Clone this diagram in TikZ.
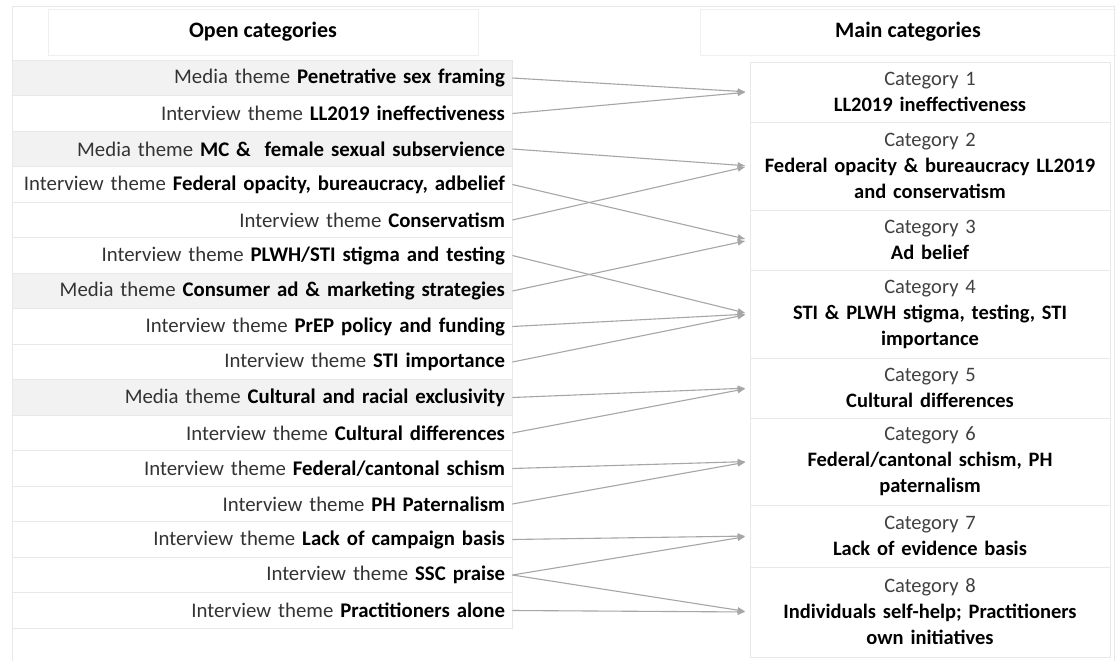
\documentclass[tikz,border=0pt]{standalone}
\usepackage{fontspec}
\setmainfont{Carlito}
\usetikzlibrary{arrows.meta}
\definecolor{rowgrey}{HTML}{F2F2F2}
\definecolor{edgegrey}{HTML}{E8E8E8}
\definecolor{arrowgrey}{HTML}{A6A6A6}
\definecolor{txtgrey}{HTML}{333333}
\definecolor{catgrey}{HTML}{404040}
\tikzset{
  rowbox/.style={rectangle, draw=edgegrey, line width=0.8pt, minimum width=500, minimum height=35.5,
    text width=486, align=right, inner sep=0pt, font=\fontsize{20.8}{24}\selectfont, text=txtgrey},
  mediarow/.style={rowbox, fill=rowgrey},
  interrow/.style={rowbox, fill=white},
  catbox/.style={rectangle, draw=edgegrey, line width=0.8pt, minimum width=360, text width=352,
    align=center, inner sep=0pt, font=\fontsize{20.5}{26}\selectfont, text=black},
  headbox/.style={rectangle, draw=edgegrey!70, line width=0.6pt, inner sep=0pt,
    font=\fontsize{22}{26}\selectfont\bfseries},
  conn/.style={draw=arrowgrey, line width=1.1pt, -{Latex[length=8pt,width=6.5pt]}, shorten >=4pt},
}
\newcommand{\cattitle}[1]{\textcolor{catgrey}{Category #1}}
\begin{document}
\begin{tikzpicture}[x=1pt,y=-1pt]
\useasboundingbox (0,0) rectangle (1116,661);
\fill[white] (0,0) rectangle (1116,661);
\draw[edgegrey, line width=0.8pt] (12,6) rectangle (1114,668);
% headers
\node[headbox, minimum width=430, minimum height=46] (hopen) at (263,32) {Open categories};
\node[headbox, minimum width=416, minimum height=46] (hmain) at (908,32) {Main categories};
% left rows
\node[mediarow] (r1) at (262,78) {Media theme \textbf{\color{black}Penetrative sex framing}};
\node[interrow] (r2) at (262,113.5) {Interview theme \textbf{\color{black}LL2019 ineffectiveness}};
\node[mediarow] (r3) at (262,149) {Media theme \textbf{\color{black}MC \&\ \ female sexual subservience}};
\node[interrow] (r4) at (262,184.5) {Interview theme \textbf{\color{black}Federal opacity, bureaucracy, adbelief}};
\node[interrow] (r5) at (262,220) {Interview theme \textbf{\color{black}Conservatism}};
\node[interrow] (r6) at (262,255.5) {Interview theme \textbf{\color{black}PLWH/STI stigma and testing}};
\node[mediarow] (r7) at (262,291) {Media theme \textbf{\color{black}Consumer ad \& marketing strategies}};
\node[interrow] (r8) at (262,326.5) {Interview theme \textbf{\color{black}PrEP policy and funding}};
\node[interrow] (r9) at (262,362) {Interview theme \textbf{\color{black}STI importance}};
\node[mediarow] (r10) at (262,397.5) {Media theme \textbf{\color{black}Cultural and racial exclusivity}};
\node[interrow] (r11) at (262,433) {Interview theme \textbf{\color{black}Cultural differences}};
\node[interrow] (r12) at (262,468.5) {Interview theme \textbf{\color{black}Federal/cantonal schism}};
\node[interrow] (r13) at (262,504) {Interview theme \textbf{\color{black}PH Paternalism}};
\node[interrow] (r14) at (262,539.5) {Interview theme \textbf{\color{black}Lack of campaign basis}};
\node[interrow] (r15) at (262,575) {Interview theme \textbf{\color{black}SSC praise}};
\node[interrow] (r16) at (262,610.5) {Interview theme \textbf{\color{black}Practitioners alone}};
% categories
\node[catbox, minimum height=60] (c1) at (930,92) {\cattitle{1}\\\textbf{LL2019 ineffectiveness}};
\node[catbox, minimum height=88] (c2) at (930,166) {\cattitle{2}\\\textbf{Federal opacity \& bureaucracy LL2019}\\\textbf{and conservatism}};
\node[catbox, minimum height=60] (c3) at (930,240) {\cattitle{3}\\\textbf{Ad belief}};
\node[catbox, minimum height=88] (c4) at (930,314) {\cattitle{4}\\\textbf{STI \& PLWH stigma, testing, STI}\\\textbf{importance}};
\node[catbox, minimum height=60] (c5) at (930,388) {\cattitle{5}\\\textbf{Cultural differences}};
\node[catbox, minimum height=87] (c6) at (930,461.5) {\cattitle{6}\\\textbf{Federal/cantonal schism, PH}\\\textbf{paternalism}};
\node[catbox, minimum height=62] (c7) at (930,536) {\cattitle{7}\\\textbf{Lack of evidence basis}};
\node[catbox, minimum height=90] (c8) at (930,612) {\cattitle{8}\\\textbf{Individuals self-help; Practitioners}\\\textbf{own initiatives}};
% connectors
\draw[conn] (r1.east) -- (c1.west);
\draw[conn] (r2.east) -- (c1.west);
\draw[conn] (r3.east) -- (c2.west);
\draw[conn] (r4.east) -- (c3.west);
\draw[conn] (r5.east) -- (c2.west);
\draw[conn] (r6.east) -- (c4.west);
\draw[conn] (r7.east) -- (c3.west);
\draw[conn] (r8.east) -- (c4.west);
\draw[conn] (r9.east) -- (c4.west);
\draw[conn] (r10.east) -- (c5.west);
\draw[conn] (r11.east) -- (c5.west);
\draw[conn] (r12.east) -- (c6.west);
\draw[conn] (r13.east) -- (c6.west);
\draw[conn] (r14.east) -- (c7.west);
\draw[conn] (r15.east) -- (c7.west);
\draw[conn] (r15.east) -- (c8.west);
\draw[conn] (r16.east) -- (c8.west);
\end{tikzpicture}
\end{document}
